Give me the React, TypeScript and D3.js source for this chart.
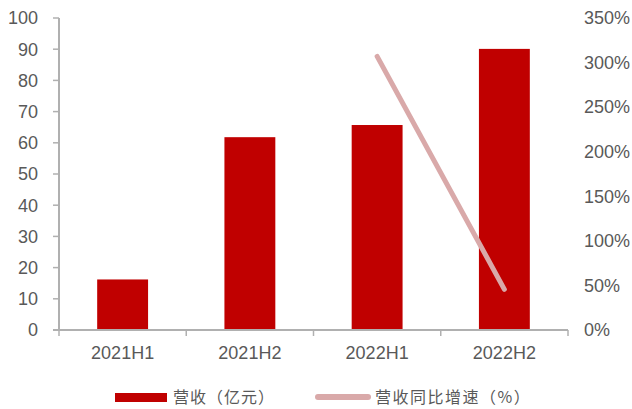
import React from "react";
import * as d3 from "d3";

const categories = ["2021H1", "2021H2", "2022H1", "2022H2"];
const revenue = [16.2, 61.8, 65.7, 90.1];
const growthCats = ["2022H1", "2022H2"];
const growth = [3.07, 0.456];
const leftTicks = [0, 10, 20, 30, 40, 50, 60, 70, 80, 90, 100];
const rightTicks = [0, 0.5, 1, 1.5, 2, 2.5, 3, 3.5];
const legendBar = "营收（亿元）";
const legendLine = "营收同比增速（%）";

const W = 632, H = 409;
const left = 59, right = 568, top = 18, bottom = 330;
const textColor = "#595959";
const axisColor = "#B0B0B0";
const font = "'Liberation Sans', Arial, sans-serif";
const cjk = "'Noto Sans CJK SC', sans-serif";

export default function App() {
  const x = d3.scaleBand<string>().domain(categories).range([left, right]).paddingInner(0.6).paddingOuter(0.3);
  const xb = d3.scaleBand<string>().domain(categories).range([left, right]);
  const y = d3.scaleLinear().domain([0, 100]).range([bottom, top]);
  const y2 = d3.scaleLinear().domain([0, 3.5]).range([bottom, top]);
  const line = d3.line<number>()
    .x((_, i) => (xb(growthCats[i]) as number) + xb.bandwidth() / 2)
    .y((d) => y2(d));
  const boundaries = categories.map((c) => xb(c) as number).concat([right]);
  return (
    <svg width={W} height={H} style={{ position: "absolute", left: 0, top: 0 }}>
      <rect width={W} height={H} fill="#fff" />
      {categories.map((c, i) => (
        <rect key={c} x={x(c)} y={y(revenue[i])} width={x.bandwidth()} height={bottom - y(revenue[i])} fill="#C00000" />
      ))}
      <line x1={left} x2={left} y1={top} y2={bottom} stroke={axisColor} strokeWidth={2} />
      {leftTicks.map((t) => (
        <g key={t}>
          <line x1={left - 6} x2={left} y1={y(t)} y2={y(t)} stroke={axisColor} strokeWidth={1.5} />
          <text x={38} y={y(t)} dy="0.35em" textAnchor="end" fontFamily={font} fontSize={18} fill={textColor}>{t}</text>
        </g>
      ))}
      <line x1={left - 6} x2={right} y1={bottom} y2={bottom} stroke={axisColor} strokeWidth={2} />
      {boundaries.map((b, i) => (
        <line key={i} x1={b} x2={b} y1={bottom} y2={bottom + 6} stroke={axisColor} strokeWidth={1.5} />
      ))}
      {categories.map((c) => (
        <text key={c} x={(xb(c) as number) + xb.bandwidth() / 2} y={359} textAnchor="middle" fontFamily={font} fontSize={18} fill={textColor}>{c}</text>
      ))}
      {rightTicks.map((t) => (
        <text key={t} x={584} y={y2(t)} dy="0.35em" textAnchor="start" fontFamily={font} fontSize={18} fill={textColor}>{d3.format(".0%")(t)}</text>
      ))}
      <path d={line(growth) as string} fill="none" stroke="#D9A9A9" strokeWidth={5} strokeLinecap="round" />
      <rect x={115} y={393} width={52} height={9} fill="#C00000" />
      <text x={173} y={403} fontFamily={cjk} fontSize={16} letterSpacing={1} fill={textColor}>{legendBar}</text>
      <line x1={318} x2={368} y1={397} y2={397} stroke="#D9A9A9" strokeWidth={6} strokeLinecap="round" />
      <text x={375} y={403} fontFamily={cjk} fontSize={16} letterSpacing={1.5} fill={textColor}>{legendLine}</text>
    </svg>
  );
}
